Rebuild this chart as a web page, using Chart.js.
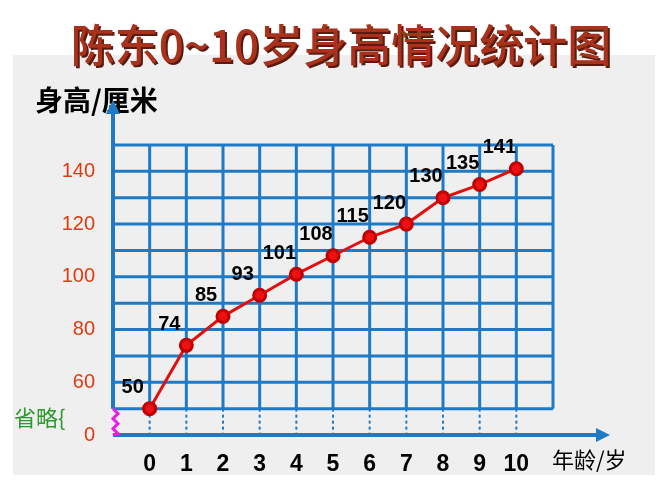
<!DOCTYPE html>
<html><head><meta charset="utf-8">
<script src="https://cdn.jsdelivr.net/npm/chart.js@4"></script>
<style>html,body{margin:0;padding:0;background:#fff}#w{position:relative;width:667px;height:500px}</style>
</head><body><div id="w"><canvas id="c" width="667" height="500"></canvas></div>
<script>
const ages = [0,1,2,3,4,5,6,7,8,9,10];
const heights = [50,74,85,93,101,108,115,120,130,135,141];
const yTickValues = [40,50,60,70,80,90,100,110,120,130,140,150];
const title = '陈东0~10岁身高情况统计图';
const yTitle = '身高/厘米';
const xTitle = '年龄/岁';

const deco = {
  id:'deco',
  beforeDraw(ch){
    const c=ch.ctx, x=ch.scales.x, y=ch.scales.y;
    c.save();
    c.fillStyle='#efefef'; c.fillRect(13,55,642,420);
    c.font='500 44px "Noto Sans CJK SC", sans-serif'; c.textAlign='center'; c.textBaseline='middle';
    c.fillStyle='#5a1a10'; c.fillText(title,343,47);
    c.fillStyle='#a8321c'; c.fillText(title,341,45);
    c.font='bold 28px "Noto Sans CJK SC", sans-serif'; c.fillStyle='#000'; c.textAlign='left';
    c.fillText(yTitle,35,100);
    c.font='22px "Noto Sans CJK SC", sans-serif'; c.fillText(xTitle,552,460);
    c.fillStyle='#2a9a2a'; c.font='22px "Noto Sans CJK SC", sans-serif'; c.fillText('省略{',14,418);
    const L=x.getPixelForValue(-1), R=x.getPixelForValue(11), T=y.getPixelForValue(150), B50=y.getPixelForValue(50), B=y.getPixelForValue(40);
    c.strokeStyle='#1f7ac6'; c.lineWidth=3;
    for(let v=50;v<=150;v+=10){const p=y.getPixelForValue(v);c.beginPath();c.moveTo(L,p);c.lineTo(R,p);c.stroke();}
    for(let i=0;i<=11;i++){const p=x.getPixelForValue(i);c.beginPath();c.moveTo(p,T);c.lineTo(p,B50);c.stroke();}
    c.setLineDash([3,3]); c.lineWidth=2;
    for(let i=0;i<=10;i++){const p=x.getPixelForValue(i);c.beginPath();c.moveTo(p,B50);c.lineTo(p,B);c.stroke();}
    c.setLineDash([]);
    c.lineWidth=4;
    c.beginPath();c.moveTo(L,B);c.lineTo(600,B);c.stroke();
    c.fillStyle='#1f7ac6';
    c.beginPath();c.moveTo(610,B);c.lineTo(596,B-7);c.lineTo(596,B+7);c.fill();
    c.beginPath();c.moveTo(L,B50);c.lineTo(L,112);c.stroke();
    c.beginPath();c.moveTo(L,100);c.lineTo(L-7,114);c.lineTo(L+7,114);c.fill();
    c.strokeStyle='#e81ee8'; c.lineWidth=3; c.beginPath();
    const zs=[B50,B50+5,B50+10,B50+15,B50+20,B50+25,B];
    zs.forEach((v,i)=>{const xx=L+(i%2?5:0); i?c.lineTo(xx,v):c.moveTo(xx,v);}); c.stroke();
    c.restore();
  },
  afterDatasetsDraw(ch){
    const c=ch.ctx, m=ch.getDatasetMeta(0);
    c.save(); c.font='bold 20px Arial, sans-serif'; c.fillStyle='#000'; c.textAlign='center'; c.textBaseline='middle';
    m.data.forEach((pt,i)=>c.fillText(heights[i],pt.x-17,pt.y-21));
    c.restore();
  }
};

new Chart(document.getElementById('c'),{
  type:'line',
  data:{datasets:[{data:ages.map((a,i)=>({x:a,y:heights[i]})),borderColor:'#e01010',borderWidth:3,
    pointBackgroundColor:'#ee1111',pointBorderColor:'#c00000',pointRadius:6,tension:0}]},
  options:{responsive:false,animation:false,devicePixelRatio:1,
    layout:{padding:{top:145,right:114,left:0,bottom:0}},
    plugins:{legend:{display:false},tooltip:{enabled:false}},
    scales:{
      x:{type:'linear',min:-1,max:11,grid:{display:false},border:{display:false},
        afterFit(s){s.height=65;},
        afterBuildTicks(s){s.ticks=ages.map(v=>({value:v}));},
        ticks:{color:'#000',font:{size:23,weight:'bold',family:'Arial'},padding:8,callback:v=>String(v)}},
      y:{min:40,max:150,grid:{display:false},border:{display:false},
        afterFit(s){s.width=113;},
        afterBuildTicks(s){s.ticks=yTickValues.map(v=>({value:v}));},
        ticks:{color:'#e03a10',font:{size:20,family:'Arial'},padding:10,callback:v=>v===40?'0':String(v)}}
    }},
  plugins:[deco]
});
</script></body></html>
